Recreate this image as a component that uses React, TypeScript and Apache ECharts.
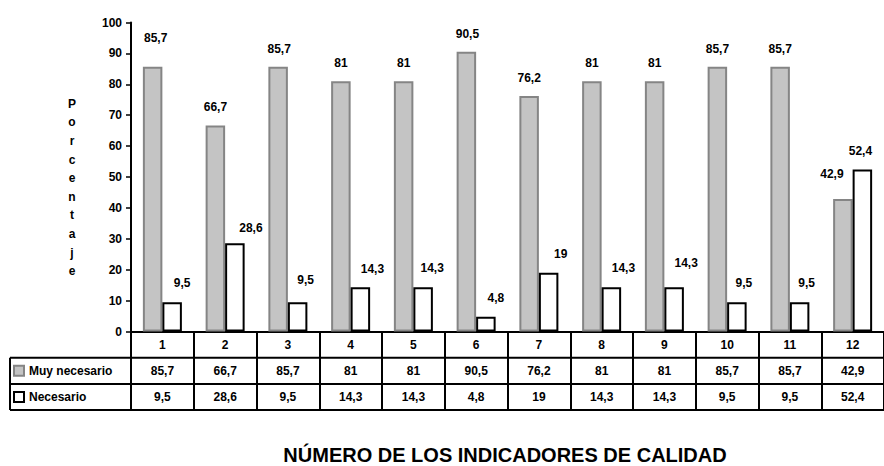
import React, { useEffect, useRef } from "react";
import * as echarts from "echarts";

const categories = ["1", "2", "3", "4", "5", "6", "7", "8", "9", "10", "11", "12"];
const muyNecesario = [85.7, 66.7, 85.7, 81, 81, 90.5, 76.2, 81, 81, 85.7, 85.7, 42.9];
const necesario = [9.5, 28.6, 9.5, 14.3, 14.3, 4.8, 19, 14.3, 14.3, 9.5, 9.5, 52.4];
const seriesNames = ["Muy necesario", "Necesario"];
const yTitle = "Porcentaje";
const xTitle = "NÚMERO DE LOS INDICADORES DE CALIDAD";

// label nudges (Excel placed labels irregularly)
const muyShift: [number, number][] = [
  [3, -11], [0, 0], [1, 0], [0, 0], [0, 0], [1, 0],
  [0, 0], [0, 0], [0, 0], [0, 0], [0, 0], [-11, -7],
];
const necShift: [number, number][] = [
  [10, 0], [16, 4], [8, -3], [12, 1], [9, 0], [10, 0],
  [12, 0], [12, 0], [12, -5], [7, 0], [7, 0], [-2, 0],
];

const fmt = (v: number) => String(v).replace(".", ",");
const FONT = "Arial, 'Liberation Sans', sans-serif";
const ROW = 26.2;
const AXIS_Y = 331.5;

export default function App() {
  const ref = useRef<HTMLDivElement>(null);
  useEffect(() => {
    document.body.style.margin = "0";
    if (!ref.current) return;
    const chart = echarts.init(ref.current, undefined, { renderer: "svg" });
    const txt = { fontFamily: FONT, fontWeight: "bold" as const, fontSize: 12, color: "#000" };
    const rowLines = [1, 2, 3].map((k) => ({
      type: "line",
      shape: { x1: 10, y1: AXIS_Y + k * ROW, x2: 884, y2: AXIS_Y + k * ROW },
      style: { stroke: "#000", lineWidth: 2 },
      z: 10,
    }));
    chart.setOption({
      animation: false,
      backgroundColor: "#fff",
      grid: { left: 131, top: 22.5, width: 761, height: 309, containLabel: false },
      legend: {
        data: seriesNames,
        orient: "vertical",
        left: 13,
        top: AXIS_Y + ROW * 1.5 - 7,
        padding: 0,
        itemGap: ROW - 14,
        itemWidth: 10,
        itemHeight: 10,
        icon: "rect",
        selectedMode: false,
        textStyle: { ...txt, lineHeight: 14 },
      },
      xAxis: {
        type: "category",
        data: categories,
        boundaryGap: true,
        axisLine: { show: true, lineStyle: { color: "#000", width: 2 } },
        axisTick: { show: true, interval: 0, alignWithLabel: false, length: ROW * 3, lineStyle: { color: "#000", width: 2 } },
        axisLabel: {
          interval: 0,
          margin: 0,
          formatter: (v: string, i: number) => `{a|${v}}\n{a|${fmt(muyNecesario[i])}}\n{a|${fmt(necesario[i])}}`,
          rich: { a: { ...txt, lineHeight: ROW } },
        },
        splitLine: { show: false },
      },
      yAxis: {
        type: "value",
        min: 0,
        max: 100,
        interval: 10,
        axisLine: { show: true, lineStyle: { color: "#000", width: 2 } },
        axisTick: { show: true, length: 5, lineStyle: { color: "#000", width: 1.5 } },
        axisLabel: { ...txt, margin: 9 },
        splitLine: { show: false },
      },
      series: [
        {
          name: seriesNames[0],
          type: "bar",
          barWidth: 19.5,
          barGap: "0%",
          itemStyle: { color: "#c4c4c4", borderColor: "#858585", borderWidth: 2 },
          label: { show: true, position: "top", distance: 11, ...txt, lineHeight: 14, formatter: (p: any) => fmt(p.value) },
          data: muyNecesario.map((v, i) => ({ value: v, label: { offset: muyShift[i] } })),
        },
        {
          name: seriesNames[1],
          type: "bar",
          barWidth: 19.5,
          barGap: "0%",
          itemStyle: { color: "#fff", borderColor: "#000", borderWidth: 2 },
          label: { show: true, position: "top", distance: 12, ...txt, lineHeight: 14, formatter: (p: any) => fmt(p.value) },
          data: necesario.map((v, i) => ({ value: v, label: { offset: necShift[i] } })),
        },
      ],
      graphic: [
        ...rowLines,
        {
          type: "line",
          shape: { x1: 10, y1: AXIS_Y + ROW, x2: 10, y2: AXIS_Y + 3 * ROW },
          style: { stroke: "#000", lineWidth: 2 },
          z: 10,
        },
        {
          type: "text",
          x: 72,
          y: 187.5,
          style: {
            text: yTitle.split("").join("\n"),
            fill: "#000",
            font: `bold 12px ${FONT}`,
            lineHeight: 18.6,
            align: "center",
            verticalAlign: "middle",
          },
        },
        {
          type: "text",
          x: 505,
          y: 455,
          style: {
            text: xTitle,
            fill: "#000",
            font: `bold 20px ${FONT}`,
            align: "center",
            verticalAlign: "middle",
          },
        },
      ],
    });
    return () => chart.dispose();
  }, []);
  return <div ref={ref} style={{ width: 884, height: 466 }} />;
}
